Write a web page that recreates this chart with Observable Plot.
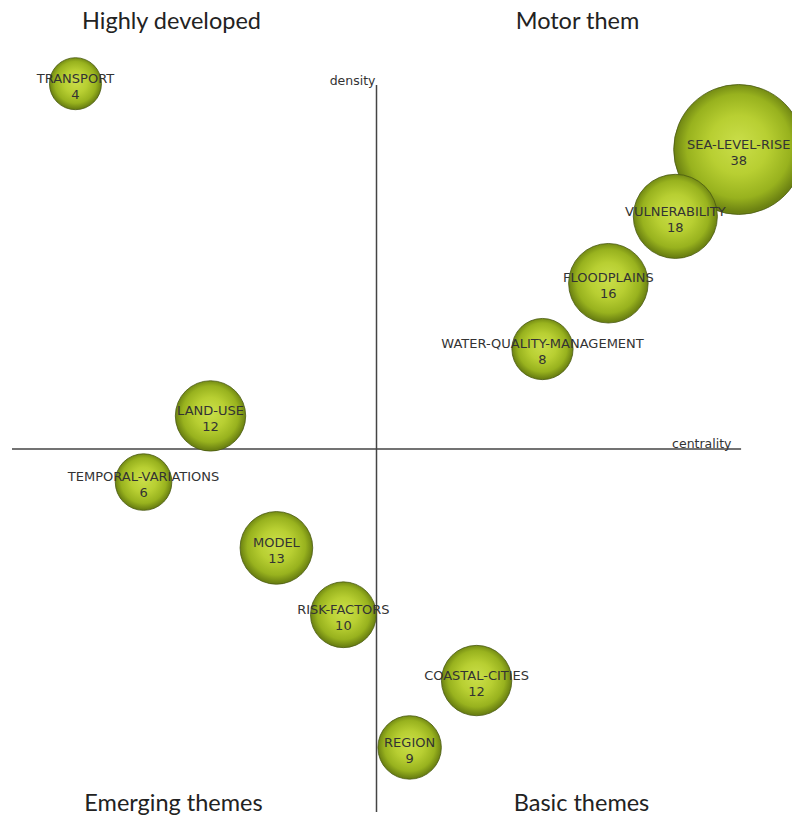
<!DOCTYPE html>
<html>
<head>
<meta charset="utf-8">
<script src="https://cdn.jsdelivr.net/npm/d3@7"></script>
<script src="https://cdn.jsdelivr.net/npm/@observablehq/plot@0.6"></script>
<style>
  html, body { margin: 0; padding: 0; background: #fff; }
  #chart { width: 792px; height: 818px; overflow: hidden; }
</style>
</head>
<body>
<div id="chart"></div>
<script>
// Themes of the strategic diagram
const themes = ["TRANSPORT", "SEA-LEVEL-RISE", "VULNERABILITY", "FLOODPLAINS",
  "WATER-QUALITY-MANAGEMENT", "LAND-USE", "TEMPORAL-VARIATIONS", "MODEL",
  "RISK-FACTORS", "COASTAL-CITIES", "REGION"];
const centrality = [-0.827, 0.995, 0.821, 0.637, 0.456, -0.456, -0.640, -0.275, -0.091, 0.275, 0.091];
const density    = [1.005, 0.824, 0.640, 0.456, 0.275, 0.091, -0.091, -0.272, -0.456, -0.637, -0.821];
const counts     = [4, 38, 18, 16, 8, 12, 6, 13, 10, 12, 9];

const quadrantLabels = ["Highly developed", "Motor them", "Emerging themes", "Basic themes"];
const axisNames = ["centrality", "density"];

const data = themes.map((t, i) => ({theme: t, c: centrality[i], d: density[i], n: counts[i]}));

const defs = () => {
  const ns = "http://www.w3.org/2000/svg";
  const g = document.createElementNS(ns, "defs");
  g.innerHTML = `
    <radialGradient id="ball" cx="50%" cy="48%" r="50%" fx="50%" fy="45%">
      <stop offset="0%" stop-color="#cade4a"/>
      <stop offset="45%" stop-color="#b8cf32"/>
      <stop offset="80%" stop-color="#98b21e"/>
      <stop offset="100%" stop-color="#6c8212"/>
    </radialGradient>`;
  return g;
};

const txt = {fontFamily: "DejaVu Sans, Verdana, sans-serif", fontSize: 13, fill: "#333", letterSpacing: 0.55};
const qtxt = {fontFamily: "Lato, 'Open Sans', sans-serif", fontSize: 23.5, fill: "#222", textAnchor: "middle", lineAnchor: "middle", frameAnchor: "top-left"};
const atxt = {fontFamily: "DejaVu Sans, sans-serif", fontSize: 12.5, fill: "#333", textAnchor: "end", lineAnchor: "middle", frameAnchor: "top-left"};

const plot = Plot.plot({
  width: 792,
  height: 818,
  margin: 0,
  x: {domain: [-1, 1], range: [12, 740], axis: null},
  y: {domain: [-1, 1], range: [812, 85], axis: null},
  r: {type: "linear", domain: [4, 38], range: [26, 65]},
  style: {background: "#fff"},
  marks: [
    defs,
    Plot.ruleX([0], {y1: -1, y2: 1, stroke: "#444", strokeWidth: 1.5}),
    Plot.ruleY([0], {x1: -1, x2: 1.003, stroke: "#444", strokeWidth: 1.5}),
    Plot.dot(data, {x: "c", y: "d", r: "n", fill: "url(#ball)", stroke: "#4a5a12", strokeWidth: 1, strokeOpacity: 0.8}),
    Plot.text(data, {x: "c", y: "d", text: "theme", dy: -5, ...txt}),
    Plot.text(data, {x: "c", y: "d", text: d => String(d.n), dy: 11, ...txt}),
    // axis names
    Plot.text([axisNames[1]], {text: d => d, dx: 375, dy: 80, ...atxt}),
    Plot.text([axisNames[0]], {text: d => d, dx: 731, dy: 443, ...atxt}),
    // quadrant labels
    Plot.text([quadrantLabels[0]], {text: d => d, dx: 171, dy: 20.5, ...qtxt}),
    Plot.text([quadrantLabels[1]], {text: d => d, dx: 577, dy: 20.5, ...qtxt}),
    Plot.text([quadrantLabels[2]], {text: d => d, dx: 173, dy: 802.5, ...qtxt}),
    Plot.text([quadrantLabels[3]], {text: d => d, dx: 581, dy: 802.5, ...qtxt})
  ]
});
document.getElementById("chart").appendChild(plot);
</script>
</body>
</html>
